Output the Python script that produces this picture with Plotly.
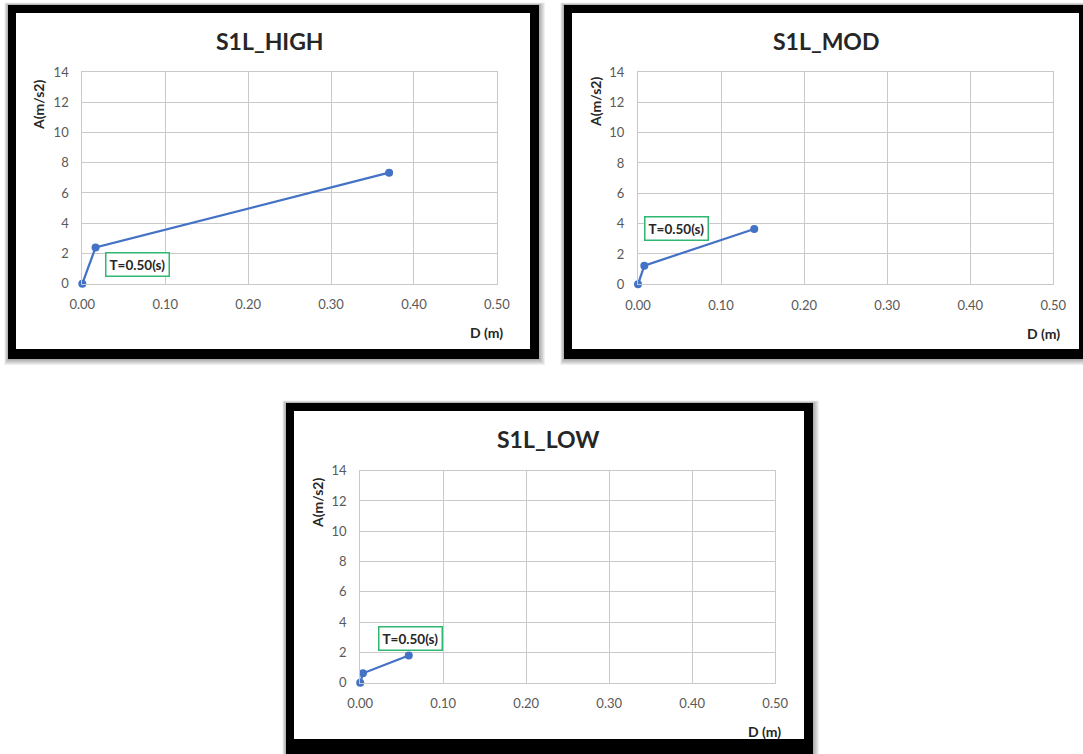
import plotly.graph_objects as go

W, H = 1083, 754

titles = ["S1L_HIGH", "S1L_MOD", "S1L_LOW"]
d_high = [0.0, 0.016, 0.370]
a_high = [0.0, 2.40, 7.34]
d_mod = [0.0, 0.0076, 0.140]
a_mod = [0.0, 1.23, 3.65]
d_low = [0.0, 0.0033, 0.0585]
a_low = [0.0, 0.62, 1.80]
label_text = "T=0.50(s)"
label_pos = [(0.067, 1.24), (0.0464, 3.71), (0.060, 2.92)]
x_ticks = [0.0, 0.1, 0.2, 0.3, 0.4, 0.5]
x_ticktext = ["0.00", "0.10", "0.20", "0.30", "0.40", "0.50"]
y_ticks = [0, 2, 4, 6, 8, 10, 12, 14]
x_title = "D (m)"
y_title = "A(m/s2)"

series = [(d_high, a_high), (d_mod, a_mod), (d_low, a_low)]


def px(x):
    return x / W


def py(y):
    return 1 - y / H


# plot areas in pixels: (left, right, bottom, top)
areas = [(82.3, 496.9, 283.7, 72.0), (638.0, 1053.3, 284.3, 72.0), (360.2, 775.2, 682.7, 470.7)]
# frames: outer (x0,y0,x1,y1), inner
frames = [((8, 5, 539, 359), (16, 13, 530, 349)),
          ((564, 5, 1090, 359), (572, 13, 1079, 349)),
          ((286, 403, 813, 760), (294, 411, 804, 739))]
title_pos = [(270, 41), (826, 41), (548, 439)]
ytitle_pos = [(38, 105), (595, 102), (317, 503)]
xtitle_pos = [(486, 332), (1043, 333), (764, 731)]

FONT = "Lato"
fig = go.Figure()
shapes = []
annotations = []
blue = "#4472C4"
grid = "#c9c9c9"

for i, (xs, ys) in enumerate(series):
    sfx = "" if i == 0 else str(i + 1)
    fig.add_trace(go.Scatter(x=xs, y=ys, mode="lines+markers",
                             line=dict(color=blue, width=2.25),
                             marker=dict(color=blue, size=8),
                             xaxis="x" + sfx, yaxis="y" + sfx, showlegend=False,
                             cliponaxis=False))
    l, r, b, t = areas[i]
    axis_common = dict(showgrid=True, gridcolor=grid, gridwidth=1, zeroline=False,
                       showline=True, linecolor=grid, linewidth=1, mirror=True,
                       automargin=False,
                       tickfont=dict(family=FONT, size=13, color="#595959"))
    fig.update_layout(**{
        "xaxis" + sfx: dict(domain=[px(l), px(r)], range=[0, 0.5], tickvals=x_ticks,
                            ticktext=x_ticktext, anchor="y" + sfx,
                            ticks="outside", ticklen=9, tickcolor="rgba(0,0,0,0)",
                            **axis_common),
        "yaxis" + sfx: dict(domain=[py(b), py(t)], range=[0, 14], tickvals=y_ticks,
                            anchor="x" + sfx,
                            ticks="outside", ticklen=10, tickcolor="rgba(0,0,0,0)",
                            **axis_common),
    })
    (ox0, oy0, ox1, oy1), (ix0, iy0, ix1, iy1) = frames[i]
    # soft shadow
    for k in range(1, 7):
        shapes.append(dict(type="rect", xref="paper", yref="paper", layer="below",
                           x0=px(ox0 - k * 0.6), x1=px(ox1 + k), y0=py(oy1 + k), y1=py(oy0 - k * 0.4),
                           line=dict(width=0), fillcolor="rgba(0,0,0,0.06)"))
    shapes.append(dict(type="rect", xref="paper", yref="paper", layer="below",
                       x0=px(ox0), x1=px(ox1), y0=py(oy1), y1=py(oy0),
                       line=dict(width=0), fillcolor="black"))
    shapes.append(dict(type="rect", xref="paper", yref="paper", layer="below",
                       x0=px(ix0), x1=px(ix1), y0=py(iy1), y1=py(iy0),
                       line=dict(width=0), fillcolor="white"))
    tx, ty = title_pos[i]
    annotations.append(dict(text="<b>" + titles[i] + "</b>", xref="paper", yref="paper",
                            x=px(tx), y=py(ty), showarrow=False, xanchor="center", yanchor="middle",
                            font=dict(family=FONT, size=23, color="#262626")))
    yx, yy = ytitle_pos[i]
    annotations.append(dict(text="<b>" + y_title + "</b>", xref="paper", yref="paper",
                            x=px(yx), y=py(yy), showarrow=False, textangle=-90,
                            xanchor="center", yanchor="middle",
                            font=dict(family=FONT, size=14, color="#262626")))
    xx, xy = xtitle_pos[i]
    annotations.append(dict(text="<b>" + x_title + "</b>", xref="paper", yref="paper",
                            x=px(xx), y=py(xy), showarrow=False,
                            xanchor="center", yanchor="middle",
                            font=dict(family=FONT, size=14, color="#262626")))
    lx, ly = label_pos[i]
    annotations.append(dict(text="<b>" + label_text + "</b>", xref="x" + sfx, yref="y" + sfx,
                            x=lx, y=ly, showarrow=False, xanchor="center", yanchor="middle",
                            bordercolor="#2EB872", borderwidth=1.5, borderpad=3, bgcolor="white",
                            font=dict(family=FONT, size=13.5, color="#262626")))

fig.update_layout(width=W, height=H, margin=dict(l=0, r=0, t=0, b=0, autoexpand=False),
                  paper_bgcolor="white", plot_bgcolor="rgba(0,0,0,0)",
                  shapes=shapes, annotations=annotations, showlegend=False)

fig.write_html("out.html")
